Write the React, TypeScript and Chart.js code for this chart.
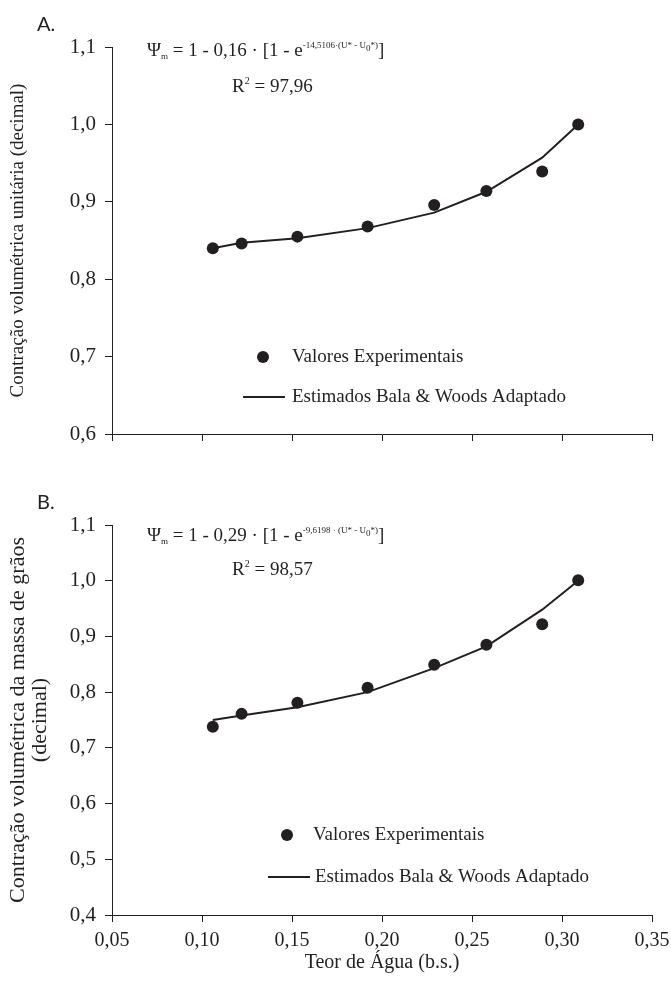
import React, { useEffect, useRef } from 'react';
import { Chart, registerables } from 'chart.js';

Chart.register(...registerables);

// ---------- data ----------
const moisture = [0.106, 0.122, 0.153, 0.192, 0.229, 0.258, 0.289, 0.309];
const unitExperimental = [0.840, 0.846, 0.855, 0.868, 0.896, 0.914, 0.939, 1.0];
const unitEstimated = [0.840, 0.847, 0.853, 0.866, 0.886, 0.913, 0.957, 1.0];
const massExperimental = [0.738, 0.761, 0.781, 0.808, 0.849, 0.885, 0.922, 1.001];
const massEstimated = [0.750, 0.758, 0.773, 0.800, 0.843, 0.882, 0.948, 1.0];

const legendLabels = ['Valores Experimentais', 'Estimados Bala & Woods Adaptado'];
const xTitle = 'Teor de Água (b.s.)';
const yTitleA = 'Contração volumétrica unitária (decimal)';
const yTitleB = ['Contração volumétrica da massa de grãos', '(decimal)'];
const panelLabels = ['A.', 'B.'];
const coefA = ['0,16', '-14,5106·(U* - U'];
const coefB = ['0,29', '-9,6198 · (U* - U'];
const r2Values = ['97,96', '98,57'];

const SERIF = '"Liberation Serif", "Times New Roman", serif';
const INK = '#231f20';

type Seg = { t: string; s: number; dy: number };

const equation = (c: string[]): Seg[] => [
  { t: 'Ψ', s: 19, dy: 0 },
  { t: 'm', s: 9, dy: 3 },
  { t: ' = 1 - ' + c[0] + ' · [1 - e', s: 19, dy: 0 },
  { t: c[1], s: 9, dy: -8 },
  { t: '0', s: 9, dy: -5 },
  { t: '*)', s: 9, dy: -8 },
  { t: ']', s: 19, dy: 0 },
];
const r2 = (v: string): Seg[] => [
  { t: 'R', s: 19, dy: 0 },
  { t: '2', s: 10, dy: -8 },
  { t: ' = ' + v, s: 19, dy: 0 },
];

function drawSegs(ctx: CanvasRenderingContext2D, segs: Seg[], x: number, y: number) {
  let cx = x;
  for (const g of segs) {
    ctx.font = `${g.s}px ${SERIF}`;
    ctx.fillText(g.t, cx, y + g.dy);
    cx += ctx.measureText(g.t).width;
  }
}

const decorPlugin = {
  id: 'decor',
  afterDraw(chart: any, _a: any, o: any) {
    const ctx: CanvasRenderingContext2D = chart.ctx;
    ctx.save();
    ctx.fillStyle = INK;
    ctx.strokeStyle = INK;
    ctx.textAlign = 'left';
    ctx.textBaseline = 'alphabetic';
    ctx.font = `20px Lato, "Open Sans", sans-serif`;
    ctx.fillText(o.panel, o.panelX, o.panelY);
    drawSegs(ctx, o.eq, o.eqX, o.eqY);
    drawSegs(ctx, o.r2, o.r2X, o.r2Y);
    // legend
    const ds = chart.data.datasets;
    ctx.beginPath();
    ctx.arc(o.dotX, o.dotY, 6, 0, Math.PI * 2);
    ctx.fill();
    ctx.beginPath();
    ctx.lineWidth = 2;
    ctx.moveTo(o.lineX1, o.lineY);
    ctx.lineTo(o.lineX2, o.lineY);
    ctx.stroke();
    ctx.font = `19px ${SERIF}`;
    ctx.textBaseline = 'middle';
    ctx.fillText(ds[0].label, o.textX1, o.dotY);
    ctx.fillText(ds[1].label, o.textX2, o.lineY);
    ctx.restore();
  },
};

const fmt = (d: number) => (v: any) => Number(v).toFixed(d).replace('.', ',');

function makeConfig(
  exp: number[],
  est: number[],
  yMin: number,
  yMax: number,
  yTitle: string | string[],
  yTitleSize: number,
  showX: boolean,
  xHeight: number,
  pad: any,
  decor: any
): any {
  const font = { family: SERIF, size: 20 };
  return {
    type: 'scatter',
    data: {
      datasets: [
        {
          label: legendLabels[0],
          data: moisture.map((x, i) => ({ x, y: exp[i] })),
          pointRadius: 6,
          pointBackgroundColor: INK,
          pointBorderColor: INK,
          pointBorderWidth: 0,
          showLine: false,
          order: 1,
        },
        {
          label: legendLabels[1],
          data: moisture.map((x, i) => ({ x, y: est[i] })),
          showLine: true,
          borderColor: INK,
          borderWidth: 2,
          pointRadius: 0,
          tension: 0,
          order: 2,
        },
      ],
    },
    options: {
      responsive: false,
      animation: false,
      devicePixelRatio: 1,
      layout: { padding: pad },
      plugins: { legend: { display: false }, tooltip: { enabled: false }, decor },
      scales: {
        x: {
          type: 'linear',
          min: 0.05,
          max: 0.35,
          border: { display: true, color: INK, width: 1 },
          grid: { drawOnChartArea: false, drawTicks: true, tickLength: 7, color: INK, lineWidth: 1 },
          ticks: { stepSize: 0.05, display: showX, color: INK, font, padding: 7, callback: fmt(2) },
          title: { display: showX, text: xTitle, color: INK, font, padding: { top: 0, bottom: 10 } },
          afterFit: (s: any) => {
            s.height = xHeight;
            s.paddingLeft = 0;
            s.paddingRight = 0;
          },
        },
        y: {
          type: 'linear',
          min: yMin,
          max: yMax,
          border: { display: true, color: INK, width: 1 },
          grid: { drawOnChartArea: false, drawTicks: true, tickLength: 7, color: INK, lineWidth: 1 },
          ticks: { stepSize: 0.1, color: INK, font: { family: SERIF, size: 21 }, padding: 9, callback: fmt(1) },
          title: {
            display: true,
            text: yTitle,
            color: INK,
            font: { family: SERIF, size: yTitleSize, lineHeight: 22 / yTitleSize },
            padding: { top: 7, bottom: 0 },
          },
          afterFit: (s: any) => {
            s.width = 112;
            s.paddingTop = 0;
            s.paddingBottom = 0;
          },
        },
      },
    },
    plugins: [decorPlugin],
  };
}

export default function App() {
  const refA = useRef<HTMLCanvasElement>(null);
  const refB = useRef<HTMLCanvasElement>(null);

  useEffect(() => {
    const a = new Chart(
      refA.current as HTMLCanvasElement,
      makeConfig(unitExperimental, unitEstimated, 0.6, 1.1, yTitleA, 19, false, 36, { top: 47, right: 19, bottom: 0, left: 0 }, {
        panel: panelLabels[0], panelX: 37, panelY: 31,
        eq: equation(coefA), eqX: 147, eqY: 56,
        r2: r2(r2Values[0]), r2X: 232, r2Y: 92,
        dotX: 263, dotY: 357, textX1: 292,
        lineX1: 243, lineX2: 285, lineY: 397, textX2: 292,
      })
    );
    const b = new Chart(
      refB.current as HTMLCanvasElement,
      makeConfig(massExperimental, massEstimated, 0.4, 1.1, yTitleB, 22, true, 70, { top: 55, right: 19, bottom: 0, left: 0 }, {
        panel: panelLabels[1], panelX: 37, panelY: 39,
        eq: equation(coefB), eqX: 147, eqY: 71,
        r2: r2(r2Values[1]), r2X: 232, r2Y: 105,
        dotX: 287, dotY: 365, textX1: 313,
        lineX1: 268, lineX2: 310, lineY: 407, textX2: 315,
      })
    );
    return () => {
      a.destroy();
      b.destroy();
    };
  }, []);

  return (
    <div style={{ position: 'absolute', left: 0, top: 0, width: 671, height: 985, background: '#fff' }}>
      <canvas ref={refA} width={671} height={470} style={{ position: 'absolute', left: 0, top: 0, width: 671, height: 470 }} />
      <canvas ref={refB} width={671} height={515} style={{ position: 'absolute', left: 0, top: 470, width: 671, height: 515 }} />
    </div>
  );
}
